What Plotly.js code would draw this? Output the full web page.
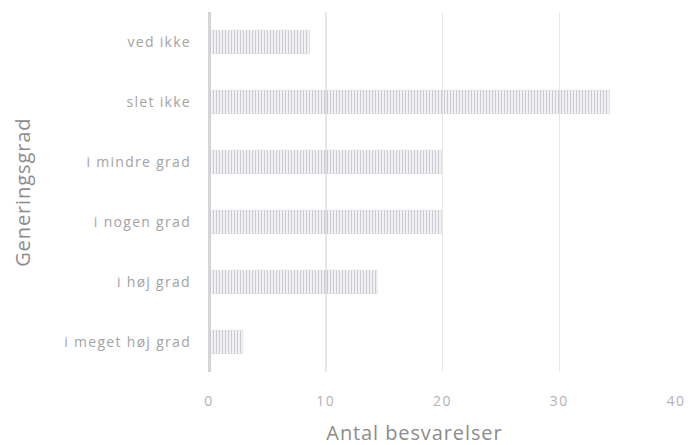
<!DOCTYPE html>
<html>
<head>
<meta charset="utf-8">
<script src="https://cdn.plot.ly/plotly-3.0.1.min.js"></script>
<style>
html,body{margin:0;padding:0;background:#fff}
#chart{width:690px;height:445px}
/* airy, widely spaced labels */
#chart .ytick text{letter-spacing:1.3px}
#chart .xtick text{letter-spacing:1.5px}
#chart .annotation-text{letter-spacing:0.9px}
</style>
</head>
<body>
<div id="chart"></div>
<script>
// Response categories, listed top to bottom
const categories = ["ved ikke", "slet ikke", "i mindre grad", "i nogen grad", "i høj grad", "i meget høj grad"];
// Number of responses per category
const counts = [8.6, 34.3, 19.9, 19.9, 14.4, 2.9];
const xTicks = [0, 10, 20, 30, 40];

const trace = {
  type: "bar",
  orientation: "h",
  y: categories,
  x: counts,
  marker: {
    color: "#dfdfe3",
    line: {color: "#d6d6db", width: 0.5},
    pattern: {shape: "|", fgcolor: "#cacad0", size: 3, solidity: 0.5}
  },
  hoverinfo: "x+y"
};

const titleFont = {family: "Open Sans, sans-serif", size: 20, color: "#8c8c8c"};

const layout = {
  width: 690, height: 445,
  margin: {l: 209, r: 14, t: 12, b: 73},
  paper_bgcolor: "#fff", plot_bgcolor: "#fff",
  bargap: 0.61,
  showlegend: false,
  font: {family: "Open Sans, sans-serif", color: "#a6a6a6", size: 13},
  xaxis: {
    range: [0, 40],
    tickvals: xTicks,
    showgrid: true, gridcolor: "#e6e6e6", gridwidth: 1.5,
    zeroline: true, zerolinecolor: "#d6d6d6", zerolinewidth: 3,
    showline: false, ticks: "",
    tickfont: {size: 14, color: "#b3b3b3"},
    ticklabelstandoff: 19
  },
  yaxis: {
    type: "category",
    categoryorder: "array", categoryarray: categories,
    autorange: "reversed",
    showgrid: false, zeroline: false, showline: false, ticks: "",
    tickfont: {size: 14, color: "#a3a3a3"},
    ticklabelstandoff: 17
  },
  annotations: [
    {text: "Antal besvarelser", xref: "paper", yref: "paper",
     x: (414 - 209) / 467, y: 0, yshift: -60, xanchor: "center", yanchor: "middle",
     showarrow: false, font: titleFont},
    {text: "Generingsgrad", xref: "paper", yref: "paper",
     x: 0, xshift: -187, y: 0.5, textangle: -90, xanchor: "center", yanchor: "middle",
     showarrow: false, font: titleFont}
  ]
};

Plotly.newPlot("chart", [trace], layout, {displayModeBar: false, staticPlot: true});
</script>
</body>
</html>
